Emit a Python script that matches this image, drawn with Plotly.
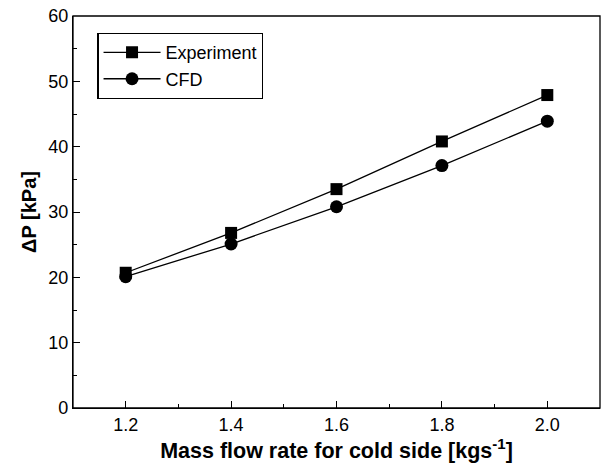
import plotly.graph_objects as go

mass_flow = [1.2, 1.4, 1.6, 1.8, 2.0]
experiment = [20.7, 26.8, 33.5, 40.8, 47.9]
cfd = [20.1, 25.1, 30.8, 37.1, 43.9]

x_ticks = [1.2, 1.4, 1.6, 1.8, 2.0]
x_tick_labels = ["1.2", "1.4", "1.6", "1.8", "2.0"]
y_ticks = [0, 10, 20, 30, 40, 50, 60]

font_family = "Liberation Sans, Arial, sans-serif"

fig = go.Figure()
fig.add_trace(go.Scatter(
    x=mass_flow, y=experiment, name="Experiment", mode="lines+markers",
    line=dict(color="black", width=1.3),
    marker=dict(symbol="square", size=12, color="black"),
))
fig.add_trace(go.Scatter(
    x=mass_flow, y=cfd, name="CFD", mode="lines+markers",
    line=dict(color="black", width=1.3),
    marker=dict(symbol="circle", size=13, color="black"),
))

fig.update_layout(
    width=601, height=465,
    margin=dict(l=73, r=1, t=16, b=57),
    plot_bgcolor="white", paper_bgcolor="white",
    font=dict(family=font_family, size=18, color="black"),
    showlegend=True,
    legend=dict(
        x=0.046, y=0.957, xanchor="left", yanchor="top",
        bordercolor="black", borderwidth=1.3, bgcolor="white",
        font=dict(size=18), tracegroupgap=0, itemwidth=57,
    ),
    xaxis=dict(
        range=[1.1, 2.1], tickvals=x_ticks, ticktext=x_tick_labels,
        ticks="inside", ticklen=7, tickwidth=1.3, tickcolor="black",
        showline=True, linecolor="black", linewidth=1.3, showgrid=False, zeroline=False,
        minor=dict(ticks="inside", ticklen=4, tickwidth=1.3, tickcolor="black", dtick=0.1, tick0=1.1, showgrid=False),
        title=dict(text="<b>Mass flow rate for cold side [kgs<sup>-1</sup>]</b>", font=dict(size=21.5), standoff=5),
        tickfont=dict(size=18),
    ),
    yaxis=dict(
        range=[0, 60], tickvals=y_ticks,
        ticks="inside", ticklen=7, tickwidth=1.3, tickcolor="black",
        showline=True, linecolor="black", linewidth=1.3, showgrid=False, zeroline=False,
        minor=dict(ticks="inside", ticklen=4, tickwidth=1.3, tickcolor="black", dtick=5, tick0=0, showgrid=False),
        title=dict(text="<b>ΔP [kPa]</b>", font=dict(size=20), standoff=6),
        tickfont=dict(size=18),
    ),
)

fig.add_shape(type="rect", xref="paper", yref="paper", x0=0, y0=0, x1=1, y1=1,
              line=dict(color="black", width=1.3), layer="above")

fig.write_html("out.html")
